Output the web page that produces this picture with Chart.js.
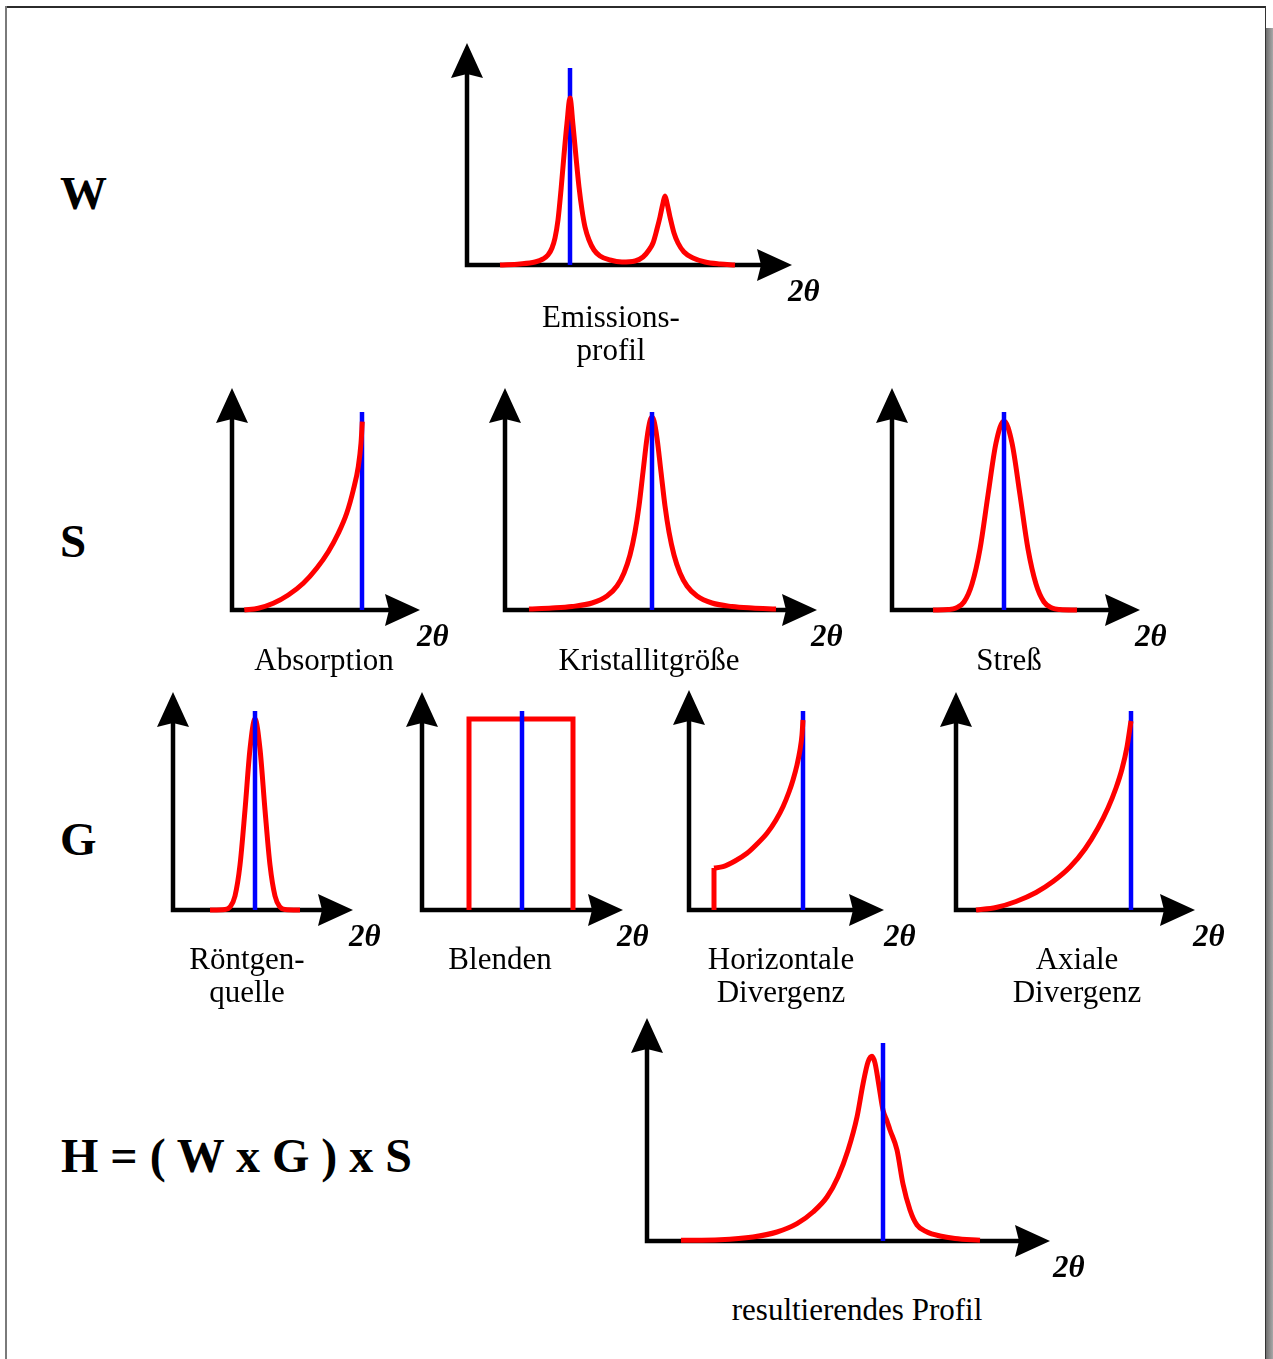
<!DOCTYPE html>
<html>
<head>
<meta charset="utf-8">
<script src="https://cdn.jsdelivr.net/npm/chart.js@4.4.1/dist/chart.umd.min.js"></script>
<style>
  html, body { margin: 0; padding: 0; background: #fff; }
  body { width: 1273px; height: 1359px; position: relative; overflow: hidden;
         font-family: "Liberation Serif", "Times New Roman", serif; color: #000; }
  .t { position: absolute; line-height: 1; white-space: nowrap; color: #000; }
  canvas { position: absolute; }
  .frame { position: absolute; }
</style>
</head>
<body>
<div class="frame" style="left:5px;top:6px;width:1261px;height:2px;background:#2b2b2b"></div>
<div class="frame" style="left:5px;top:6px;width:2px;height:1360px;background:#7a7a7a"></div>
<div class="frame" style="left:1265px;top:6px;width:1px;height:1360px;background:#333"></div>
<div class="frame" style="left:1266px;top:28px;width:7px;height:1340px;background:linear-gradient(to right,#6e6e6e,#a8a8a8)"></div>

<script>
// ---------------- DATA (x = 2θ offset from origin, y = intensity) ----------------
// W: Emissionsprofil (two peaks Kα1 / Kα2)
const emissionX = [33,53,68,76,81,85,88,91,94,97,100,103,106,109,112,115,118,122,127,133,143,155,168,176,182,186,190,193,196,198,200,203,207,211,217,226,238,253,268];
const emissionY = [0,1,3,6,10,17,27,45,75,110,142,167,140,108,78,55,38,25,15,9,5,3,4,8,15,22,36,48,62,69,62,48,32,22,13,7,3,1,0];
const emissionLine = [103, 197];

// S: Absorption
const absorptionX = [12.3,26.3,41.3,56.3,71.3,84.7,96.3,106.3,114.7,121.3,126.3,129,130.3];
const absorptionY = [0,1.7,6.7,15,26.7,41.7,58.3,76.7,96.7,120,143.3,166.7,188.3];
const absorptionLine = [130, 198];

// S: Kristallitgröße
const crystalX = [24,47,67,87,102,112,119,125,130,134,138,142,145,147,149,152,156,160,164,169,175,182,192,207,227,247,271];
const crystalY = [1,2,3.5,7,14,24,37,55,78,104,138,172,189,193,189,172,138,104,78,55,37,24,14,7,3.5,2,1];
const crystalLine = [147, 198];

// S: Streß
const stressX = [41,56,64,72,80,88,96,104,112,120,128,136,144,152,160,168,185];
const stressY = [0,0.5,2,8,26,61,115,167,189,167,115,61,26,8,2,0.5,0];
const stressLine = [112, 198];

// G: Röntgenquelle
const sourceX = [37,52,57,62,67,72,77,82,87,92,97,102,107,112,127];
const sourceY = [0,0.5,3,14,45,100,161,191,161,100,45,14,3,0.5,0];
const sourceLine = [82, 199];

// G: Blenden
const slitX = [47,47,151,151];
const slitY = [0,191,191,0];
const slitLine = [100, 199];

// G: Horizontale Divergenz (step + rising edge)
const horizStepX = [25,25];
const horizStepY = [0,42];
const horizX = [25,34,46,58,67,78,87,94,100,104,108,111,113,114];
const horizY = [42,43.3,49,56.7,65,76.7,90,103.3,118,130,145,160,175,190];
const horizLine = [114, 199];

// G: Axiale Divergenz
const axialX = [20,40,60,80,97,114,129,142,152,160,166,171,175];
const axialY = [0,2.5,8.5,17.5,28.5,43,61,82,102,122,141,163,189];
const axialLine = [175, 199];

// H: resultierendes Profil
const resultX = [34,73,106,130,150,166,180,191,201,210,216,221,225,228,232,236,240,243,250,256,263,270,280,293,308,333];
const resultY = [0.7,1.3,4,9,17.3,29,44,64,90.7,124,157,179,184.7,178,155,131,120,111,91,57,31,16,9,5,2.5,0.7];
const resultLine = [236, 198];

// ---------------- LAYOUT ----------------
const RED = '#ff0000', BLUE = '#0000ff';

const axesArrows = {
  id: 'axesArrows',
  beforeDatasetsDraw(chart) {
    const { ctx, scales: { x, y } } = chart;
    const x0 = x.getPixelForValue(0), y0 = y.getPixelForValue(0);
    const xt = x.getPixelForValue(x.max), yt = y.getPixelForValue(y.max);
    const L = 35, W = 16, N = 4, lw = 4.5;
    ctx.save();
    ctx.strokeStyle = '#000'; ctx.fillStyle = '#000';
    ctx.lineWidth = lw; ctx.lineCap = 'butt';
    ctx.beginPath();
    ctx.moveTo(x0, y0 + lw / 2); ctx.lineTo(x0, yt + L - N);
    ctx.moveTo(x0 - lw / 2, y0); ctx.lineTo(xt - L + N, y0);
    ctx.stroke();
    ctx.beginPath();
    ctx.moveTo(x0, yt); ctx.lineTo(x0 + W, yt + L); ctx.lineTo(x0, yt + L - N); ctx.lineTo(x0 - W, yt + L);
    ctx.closePath(); ctx.fill();
    ctx.beginPath();
    ctx.moveTo(xt, y0); ctx.lineTo(xt - L, y0 - W); ctx.lineTo(xt - L + N, y0); ctx.lineTo(xt - L, y0 + W);
    ctx.closePath(); ctx.fill();
    ctx.restore();
  }
};

function pts(xs, ys) { return xs.map((v, i) => ({ x: v, y: ys[i] })); }

function redSet(xs, ys, smooth, top) {
  const ds = { data: pts(xs, ys), showLine: true, borderColor: RED, backgroundColor: RED,
    borderWidth: 5, pointRadius: 0, fill: false, clip: false, borderJoinStyle: 'miter',
    order: top ? 1 : 3 };
  if (smooth) ds.cubicInterpolationMode = 'monotone'; else ds.tension = 0;
  return ds;
}

function makePanel(p) {
  const padL = 22, padR = 4, padT = 4, padB = 22;
  const w = p.xLen + padL + padR, h = p.yLen + padT + padB;
  const cv = document.createElement('canvas');
  cv.width = w; cv.height = h;
  cv.style.left = (p.ox - padL) + 'px';
  cv.style.top = (p.oy - p.yLen - padT) + 'px';
  cv.style.width = w + 'px'; cv.style.height = h + 'px';
  document.body.appendChild(cv);
  const sets = p.reds.map(r => redSet(r[0], r[1], r[2], p.redTop));
  sets.push({ data: [{ x: p.line[0], y: 0 }, { x: p.line[0], y: p.line[1] }], showLine: true,
    borderColor: BLUE, backgroundColor: BLUE, borderWidth: 4.5, pointRadius: 0, tension: 0,
    fill: false, clip: false, order: 2 });
  new Chart(cv, {
    type: 'scatter',
    data: { datasets: sets },
    options: {
      responsive: false, animation: false, devicePixelRatio: 1, events: [],
      layout: { padding: { left: padL, right: padR, top: padT, bottom: padB } },
      plugins: { legend: { display: false }, tooltip: { enabled: false } },
      scales: {
        x: { type: 'linear', min: 0, max: p.xLen, display: false },
        y: { type: 'linear', min: 0, max: p.yLen, display: false }
      }
    },
    plugins: [axesArrows]
  });
  addText('2θ', p.thetaX, p.oy + 36, 31, { bold: true, italic: true });
}

function addText(txt, x, baseline, size, o = {}) {
  const d = document.createElement('div');
  d.className = 't';
  d.textContent = txt;
  d.style.fontSize = size + 'px';
  if (o.bold) d.style.fontWeight = 'bold';
  if (o.italic) d.style.fontStyle = 'italic';
  d.style.top = (baseline - 0.8375 * size) + 'px';
  if (o.center) {
    d.style.left = (x - 300) + 'px'; d.style.width = '600px'; d.style.textAlign = 'center';
  } else {
    d.style.left = x + 'px';
  }
  document.body.appendChild(d);
}

const panels = [
  { ox: 467, oy: 265, xLen: 325, yLen: 222, reds: [[emissionX, emissionY, true]], line: emissionLine, redTop: true, thetaX: 788 },
  { ox: 232, oy: 610, xLen: 188, yLen: 222, reds: [[absorptionX, absorptionY, true]], line: absorptionLine, redTop: true, thetaX: 417 },
  { ox: 505, oy: 610, xLen: 312, yLen: 222, reds: [[crystalX, crystalY, true]], line: crystalLine, redTop: false, thetaX: 811 },
  { ox: 892, oy: 610, xLen: 248, yLen: 222, reds: [[stressX, stressY, true]], line: stressLine, redTop: false, thetaX: 1135 },
  { ox: 173, oy: 910, xLen: 180, yLen: 218, reds: [[sourceX, sourceY, true]], line: sourceLine, redTop: false, thetaX: 349 },
  { ox: 422, oy: 910, xLen: 201, yLen: 218, reds: [[slitX, slitY, false]], line: slitLine, redTop: false, thetaX: 617 },
  { ox: 689, oy: 910, xLen: 195, yLen: 220, reds: [[horizStepX, horizStepY, false], [horizX, horizY, true]], line: horizLine, redTop: true, thetaX: 884 },
  { ox: 956, oy: 910, xLen: 239, yLen: 218, reds: [[axialX, axialY, true]], line: axialLine, redTop: true, thetaX: 1193 },
  { ox: 647, oy: 1241, xLen: 403, yLen: 223, reds: [[resultX, resultY, true]], line: resultLine, redTop: false, thetaX: 1053 }
];
panels.forEach(makePanel);

// Row labels and formula
addText('W', 60, 209, 47, { bold: true });
addText('S', 60, 557, 47, { bold: true });
addText('G', 60, 855, 47, { bold: true });
addText('H = ( W x G ) x S', 61, 1172, 48, { bold: true });

// Captions
const CAP = 31, LH = 33.4;
addText('Emissions-', 611, 327, CAP, { center: true });
addText('profil', 611, 327 + LH, CAP, { center: true });
addText('Absorption', 324, 670, CAP, { center: true });
addText('Kristallitgröße', 649, 670, CAP, { center: true });
addText('Streß', 1009, 670, CAP, { center: true });
addText('Röntgen-', 247, 969, CAP, { center: true });
addText('quelle', 247, 969 + LH, CAP, { center: true });
addText('Blenden', 500, 969, CAP, { center: true });
addText('Horizontale', 781, 969, CAP, { center: true });
addText('Divergenz', 781, 969 + LH, CAP, { center: true });
addText('Axiale', 1077, 969, CAP, { center: true });
addText('Divergenz', 1077, 969 + LH, CAP, { center: true });
addText('resultierendes Profil', 857, 1320, CAP, { center: true });
</script>
</body>
</html>
